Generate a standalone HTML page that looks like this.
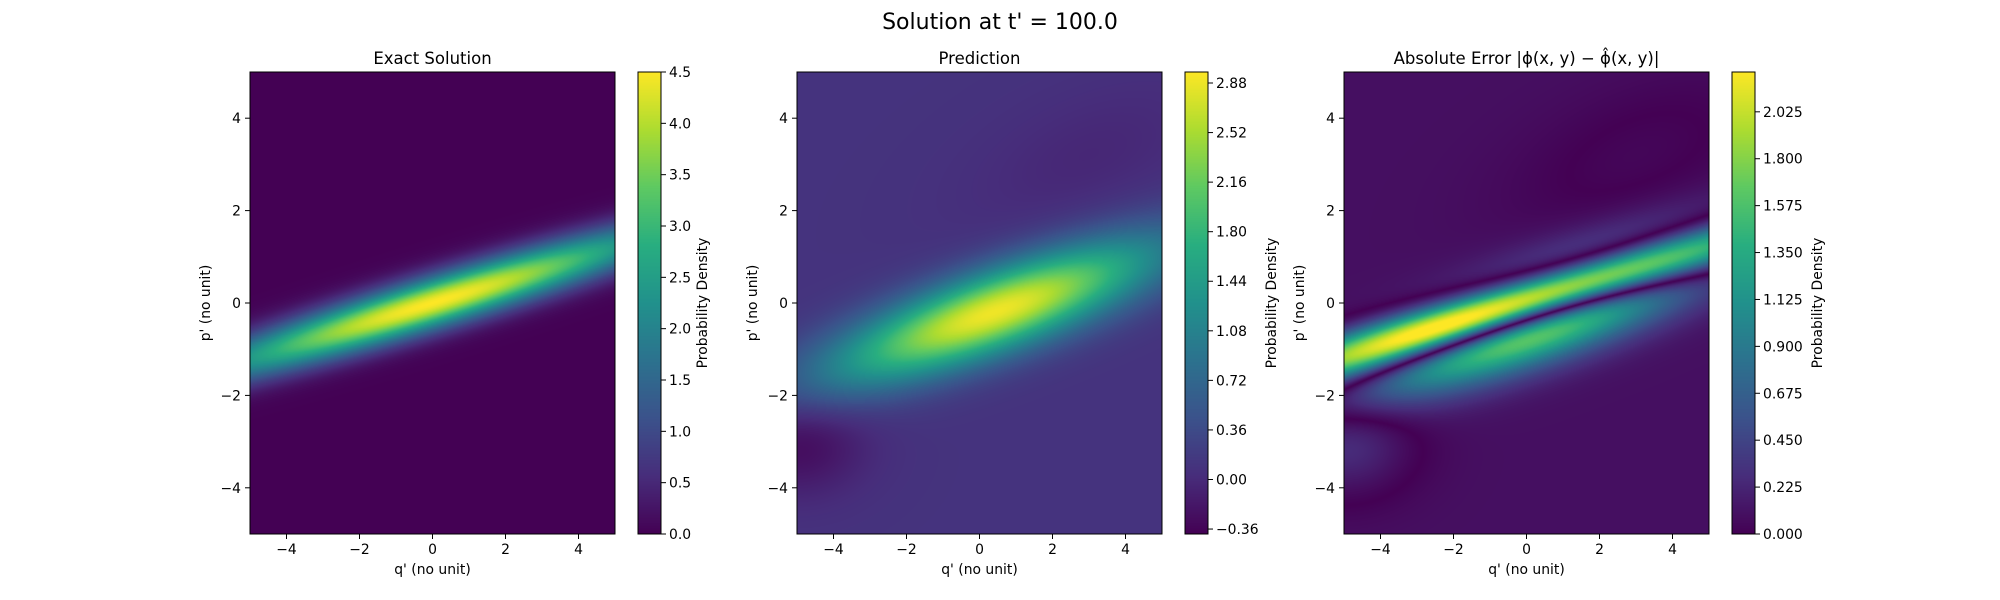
<!DOCTYPE html>
<html><head><meta charset="utf-8"><style>
body{margin:0;background:#fff;width:2000px;height:600px;position:relative;overflow:hidden;font-family:"DejaVu Sans","Liberation Sans",sans-serif}
canvas{position:absolute}
svg{position:absolute;left:0;top:0}
</style></head><body>
<canvas id="h0" width="365" height="462" style="left:250px;top:72px"></canvas>
<canvas id="h1" width="365" height="462" style="left:797px;top:72px"></canvas>
<canvas id="h2" width="365" height="462" style="left:1344px;top:72px"></canvas>
<canvas id="c0" width="23" height="462" style="left:638px;top:72px"></canvas>
<canvas id="c1" width="23" height="462" style="left:1185px;top:72px"></canvas>
<canvas id="c2" width="23" height="462" style="left:1732px;top:72px"></canvas>
<svg id="svg" width="2000" height="600"></svg>
<script>
const xTicks=[-4,-2,0,2,4];
const yTicks=[-4,-2,0,2,4];
// gaussian blobs: amplitude, q0, p0, slope, sigmaAlong, sigmaPerp
const exactBlobs=[[4.5,0,0,0.24,4.6,0.38]];
const predBlobs=[[2.8,0.4,-0.2,0.28,3.2,0.62],[-0.4,-5,-3,0,1.3,0.8],[-0.12,3,3.2,0.3,2.5,1.0]];
const predBase=[0.09];
const cb0Ticks=[0,0.5,1,1.5,2,2.5,3,3.5,4,4.5];
const cb0Labels=["0.0","0.5","1.0","1.5","2.0","2.5","3.0","3.5","4.0","4.5"];
const cb1Ticks=[-0.36,0,0.36,0.72,1.08,1.44,1.80,2.16,2.52,2.88];
const cb1Labels=["\u22120.36","0.00","0.36","0.72","1.08","1.44","1.80","2.16","2.52","2.88"];
const cb2Ticks=[0,0.225,0.45,0.675,0.9,1.125,1.35,1.575,1.8,2.025];
const cb2Labels=["0.000","0.225","0.450","0.675","0.900","1.125","1.350","1.575","1.800","2.025"];
const ranges=[[0,4.5],[-0.396,2.96],[0,2.216]];

const VIR=["#440154","#472d7b","#3b528b","#2c728e","#21918c","#28ae80","#5ec962","#addc30","#fde725"].map(h=>[parseInt(h.substr(1,2),16),parseInt(h.substr(3,2),16),parseInt(h.substr(5,2),16)]);
function vir(t){t=Math.max(0,Math.min(1,t));const f=t*8,i=Math.min(7,Math.floor(f)),u=f-i;return VIR[i].map((c,k)=>c+(VIR[i+1][k]-c)*u);}
function field(blobs,base,q,p){let v=base;for(const b of blobs){const dq=q-b[1],dp=p-b[2];const n=Math.sqrt(1+b[3]*b[3]);const a=(dq+b[3]*dp)/n,r=(dp-b[3]*dq)/n;v+=b[0]*Math.exp(-a*a/(2*b[4]*b[4])-r*r/(2*b[5]*b[5]));}return v;}
const W=365,H=462;
const xs=q=>(q+5)/10*W, ys=p=>(5-p)/10*H;
function draw(id,fn,rng){const c=document.getElementById(id).getContext('2d');const img=c.createImageData(W,H);
for(let j=0;j<H;j++){const p=5-(j+0.5)/H*10;for(let i=0;i<W;i++){const q=-5+(i+0.5)/W*10;const v=fn(q,p);const col=vir((v-rng[0])/(rng[1]-rng[0]));const o=(j*W+i)*4;img.data[o]=col[0];img.data[o+1]=col[1];img.data[o+2]=col[2];img.data[o+3]=255;}}
c.putImageData(img,0,0);}
const ex=(q,p)=>field(exactBlobs,0,q,p), pr=(q,p)=>field(predBlobs,predBase[0],q,p);
draw('h0',ex,ranges[0]);draw('h1',pr,ranges[1]);draw('h2',(q,p)=>Math.abs(ex(q,p)-pr(q,p)),ranges[2]);
['c0','c1','c2'].forEach(id=>{const c=document.getElementById(id).getContext('2d');for(let j=0;j<H;j++){const col=vir(1-(j+0.5)/H);c.fillStyle=`rgb(${col.map(Math.round).join(',')})`;c.fillRect(0,j,23,1);}});
const svg=document.getElementById('svg');const NS='http://www.w3.org/2000/svg';
function el(tag,attrs,txt){const e=document.createElementNS(NS,tag);for(const k in attrs)e.setAttribute(k,attrs[k]);if(txt!=null)e.textContent=txt;svg.appendChild(e);return e;}
const sup=el('text',{x:1000,y:29,'text-anchor':'middle','font-size':22},"Solution at t' = 100.0");


const lefts=[250,797,1344],titles=["Exact Solution","Prediction","Absolute Error |\u03d5(x, y) \u2212 \u03d5\u0302(x, y)|"],names=["exact","prediction","error"];
const cbTicks=[cb0Ticks,cb1Ticks,cb2Ticks],cbLabels=[cb0Labels,cb1Labels,cb2Labels],cbLabelOff=[46,68,67];
lefts.forEach((L,k)=>{
 const fr=el('rect',{x:L,y:72,width:W,height:H,fill:'none',stroke:'#000','stroke-width':1});
 
 
 const t=el('text',{x:L+W/2,y:64,'text-anchor':'middle','font-size':16.5},titles[k]);
 
 
 xTicks.forEach(v=>{const x=L+xs(v);el('line',{x1:x,x2:x,y1:534,y2:539,stroke:'#000'});
  const tl=el('text',{x:x,y:554,'text-anchor':'middle','font-size':13.9},v<0?'\u2212'+(-v):String(v));
  
  });
 yTicks.forEach(v=>{const y=72+ys(v);el('line',{x1:L-5,x2:L,y1:y,y2:y,stroke:'#000'});
  const tl=el('text',{x:L-9,y:y+5,'text-anchor':'end','font-size':13.9},v<0?'\u2212'+(-v):String(v));
  
  });
 const xl=el('text',{x:L+W/2,y:574,'text-anchor':'middle','font-size':13.9},"q' (no unit)");
 
 
 const yl=el('text',{x:0,y:0,'text-anchor':'middle','font-size':13.9,transform:`translate(${L-40},303) rotate(-90)`},"p' (no unit)");
 
 
 const C=L+388;const r=ranges[k];
 el('rect',{x:C,y:72,width:23,height:H,fill:'none',stroke:'#000','stroke-width':1});
 cbTicks[k].forEach((v,i)=>{const y=534-(v-r[0])/(r[1]-r[0])*H;el('line',{x1:C+23,x2:C+28,y1:y,y2:y,stroke:'#000'});
  const tl=el('text',{x:C+31,y:y+5,'font-size':13.9},cbLabels[k][i]);
  
  });
 const cl=el('text',{x:0,y:0,'text-anchor':'middle','font-size':13.9,transform:`translate(${C+23+cbLabelOff[k]},303) rotate(-90)`},"Probability Density");
 
 
});
</script>
</body></html>
